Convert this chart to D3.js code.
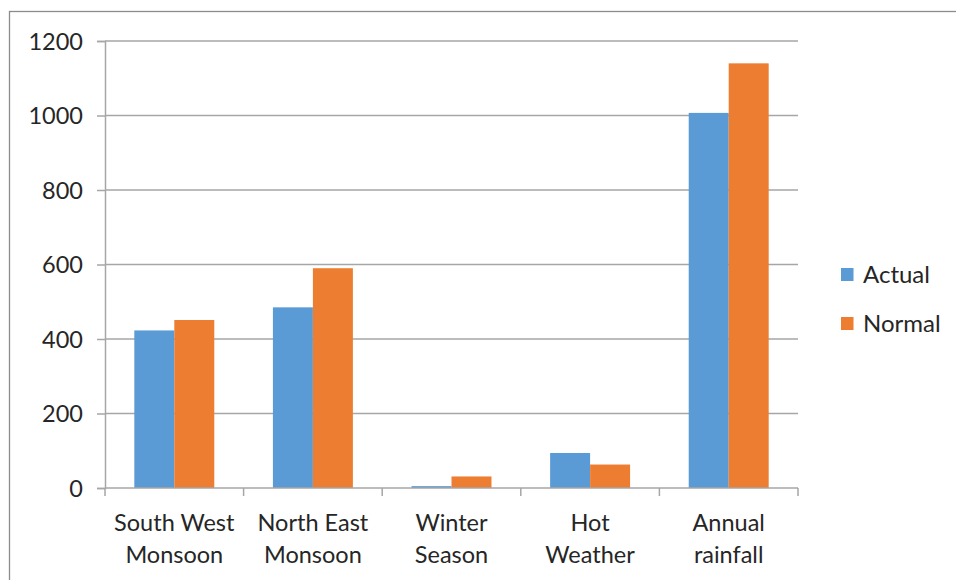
<!DOCTYPE html>
<html>
<head>
<meta charset="utf-8">
<script src="https://cdn.jsdelivr.net/npm/d3@7"></script>
<style>
  html, body { margin: 0; padding: 0; background: #fff; }
  svg { display: block; }
  text { font-family: Lato, "Open Sans", sans-serif; fill: #262626; }
</style>
</head>
<body>
<svg id="chart" width="956" height="580"></svg>
<script>
// Rainfall (mm) by season
const categories = [
  ["South West", "Monsoon"],
  ["North East", "Monsoon"],
  ["Winter", "Season"],
  ["Hot", "Weather"],
  ["Annual", "rainfall"]
];
const seriesNames = ["Actual", "Normal"];
const actual = [423, 485, 5, 94, 1007];
const normal = [451, 590, 31, 63, 1140];
const yTicks = [0, 200, 400, 600, 800, 1000, 1200];
const colors = ["#5B9BD5", "#ED7D31"];

const svg = d3.select("#chart");
const W = 956, H = 580;
const plot = { left: 105, right: 798, top: 41, bottom: 488 };
const fontSize = 23.5;

// Outer chart frame (runs off the right and bottom edges)
svg.append("rect")
  .attr("x", 9.5).attr("y", 11.5)
  .attr("width", W + 10).attr("height", H + 10)
  .attr("fill", "none").attr("stroke", "#8c8c8c").attr("stroke-width", 1.3);

const keys = categories.map((c, i) => i);
const x0 = d3.scaleBand().domain(keys)
  .range([plot.left, plot.right])
  .paddingInner(0.423).paddingOuter(0.2115);
const x1 = d3.scaleBand().domain(seriesNames).range([0, x0.bandwidth()]);
const y = d3.scaleLinear().domain([0, 1200]).range([plot.bottom, plot.top]);

// Horizontal gridlines
svg.append("g").selectAll("line").data(yTicks.filter(t => t > 0)).join("line")
  .attr("x1", plot.left).attr("x2", plot.right)
  .attr("y1", d => y(d)).attr("y2", d => y(d))
  .attr("stroke", "#a6a6a6").attr("stroke-width", 1.5);

// Bars
const rows = keys.map(i => ({ i, values: [actual[i], normal[i]] }));
const groups = svg.append("g").selectAll("g").data(rows).join("g")
  .attr("transform", d => `translate(${x0(d.i)},0)`);
groups.selectAll("rect")
  .data(d => d.values.map((v, k) => ({ name: seriesNames[k], v, k })))
  .join("rect")
  .attr("x", d => x1(d.name))
  .attr("width", x1.bandwidth())
  .attr("y", d => y(d.v))
  .attr("height", d => y(0) - y(d.v))
  .attr("fill", d => colors[d.k]);

// Y axis
const yAxis = d3.axisLeft(y).tickValues(yTicks).tickFormat(d3.format("d"))
  .tickSize(8).tickPadding(14);
const gy = svg.append("g").attr("transform", `translate(${plot.left},0)`).call(yAxis);
gy.select(".domain").attr("stroke", "#a6a6a6").attr("stroke-width", 1.5);
gy.selectAll(".tick line").attr("stroke", "#a6a6a6").attr("stroke-width", 1.5);
gy.selectAll(".tick text")
  .attr("font-family", "Lato, sans-serif")
  .attr("font-size", fontSize).attr("fill", "#262626")
  .attr("dy", "0.34em");

// X axis: baseline with tick marks at category boundaries
const step = x0.step();
const bounds = d3.range(categories.length + 1).map(i => plot.left + i * step);
svg.append("line")
  .attr("x1", plot.left).attr("x2", plot.right)
  .attr("y1", y(0)).attr("y2", y(0))
  .attr("stroke", "#a6a6a6").attr("stroke-width", 1.5);
svg.append("g").selectAll("line").data(bounds).join("line")
  .attr("x1", d => d).attr("x2", d => d)
  .attr("y1", y(0)).attr("y2", y(0) + 8)
  .attr("stroke", "#a6a6a6").attr("stroke-width", 1.5);

// Category labels (two lines each)
const labels = svg.append("g").selectAll("text").data(keys).join("text")
  .attr("text-anchor", "middle")
  .attr("font-size", fontSize)
  .attr("x", i => x0(i) + x0.bandwidth() / 2)
  .attr("y", 531);
labels.selectAll("tspan").data(i => categories[i]).join("tspan")
  .attr("x", function () { return d3.select(this.parentNode).attr("x"); })
  .attr("dy", (d, j) => j === 0 ? 0 : 32)
  .text(d => d);

// Legend
const legend = svg.append("g").selectAll("g").data(seriesNames).join("g")
  .attr("transform", (d, k) => `translate(841,${268 + k * 49})`);
legend.append("rect").attr("width", 12.5).attr("height", 13)
  .attr("fill", (d, k) => colors[k]);
legend.append("text").attr("x", 22).attr("y", 14.5)
  .attr("font-size", 24).text(d => d);
</script>
</body>
</html>
